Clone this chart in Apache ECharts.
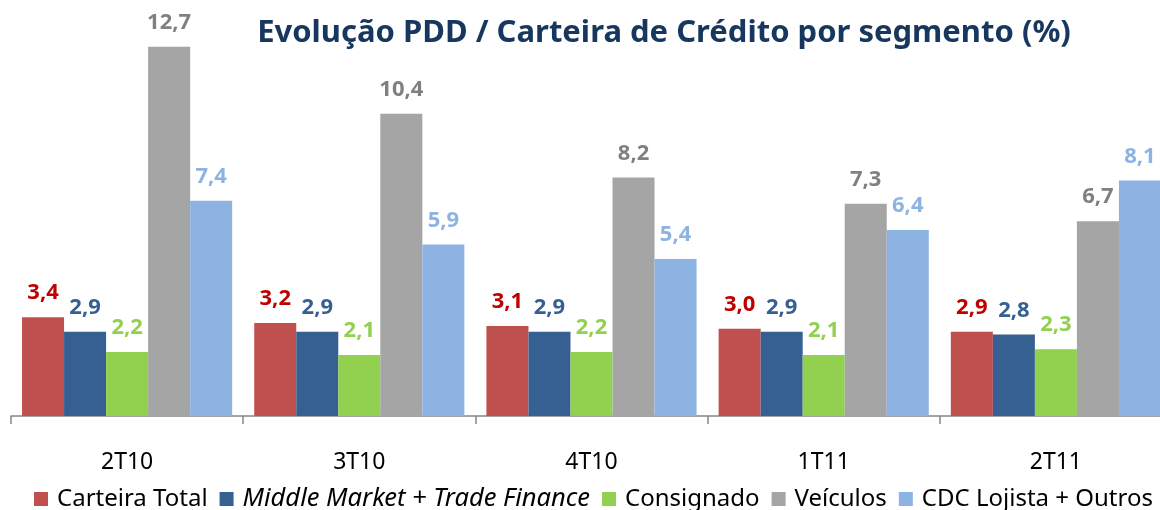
<!DOCTYPE html>
<html>
<head>
<meta charset="utf-8">
<script src="https://cdn.jsdelivr.net/npm/echarts@6/dist/echarts.min.js"></script>
<style>
html,body{margin:0;padding:0;background:#fff;}
#chart{width:1160px;height:510px;}
</style>
</head>
<body>
<div id="chart"></div>
<script>
var periodos = ['2T10', '3T10', '4T10', '1T11', '2T11'];
var carteiraTotal = [3.4, 3.2, 3.1, 3.0, 2.9];
var middleMarket = [2.9, 2.9, 2.9, 2.9, 2.8];
var consignado = [2.2, 2.1, 2.2, 2.1, 2.3];
var veiculos = [12.7, 10.4, 8.2, 7.3, 6.7];
var cdcLojista = [7.4, 5.9, 5.4, 6.4, 8.1];

var nomes = ['Carteira Total', 'Middle Market + Trade Finance', 'Consignado', 'Veículos', 'CDC Lojista + Outros'];
var coresBarra = ['#c0504d', '#366092', '#92d050', '#a5a5a5', '#8db3e2'];
var coresRotulo = ['#c00000', '#366092', '#92d050', '#808080', '#8db3e2'];
var dados = [carteiraTotal, middleMarket, consignado, veiculos, cdcLojista];

var fonte = '"Noto Sans", sans-serif';

function virgula(p){
	return p.value.toFixed(1).replace('.', ',');
}

var series = [];
for (var i = 0; i < nomes.length; i++) {
	series.push({
		name: nomes[i],
		type: 'bar',
		barGap: 0,
		barCategoryGap: '9.5%',
		itemStyle: { color: coresBarra[i] },
		label: {
			show: true,
			position: 'top',
			distance: 13,
			formatter: virgula,
			color: coresRotulo[i],
			fontFamily: fonte,
			fontWeight: 'bold',
			fontSize: 22
		},
		data: dados[i]
	});
}

var myChart = echarts.init(document.getElementById('chart'));
var option = {
	backgroundColor: '#fff',
	animation: false,
	title: {
		text: 'Evolução PDD / Carteira de Crédito por segmento (%)',
		left: 659,
		top: 13,
		textAlign: 'center',
		textStyle: {
			color: '#17375e',
			fontFamily: fonte,
			fontWeight: 'bold',
			fontSize: 31
		}
	},
	legend: {
		top: 486,
		left: 34,
		width: 1200,
		padding: 0,
		itemWidth: 14,
		itemHeight: 14,
		itemGap: 12,
		icon: 'rect',
		data: nomes,
		formatter: function(n){
			if (n == 'Middle Market + Trade Finance') return '{i|' + n + '}';
			return n;
		},
		textStyle: {
			color: '#000',
			fontFamily: fonte,
			fontSize: 24,
			padding: [0, 0, 0, 4],
			rich: {
				i: { fontStyle: 'italic', fontFamily: fonte, fontSize: 25.5, color: '#000' }
			}
		}
	},
	grid: {
		left: 11,
		right: -12,
		top: 9,
		bottom: 94,
		outerBoundsMode: 'none',
		containLabel: false
	},
	xAxis: {
		type: 'category',
		data: periodos,
		axisLine: { lineStyle: { color: '#868686', width: 1.5 } },
		axisTick: { show: true, length: 8, lineStyle: { color: '#868686', width: 1.5 } },
		axisLabel: {
			margin: 35,
			color: '#000',
			fontFamily: fonte,
			fontSize: 23
		}
	},
	yAxis: {
		type: 'value',
		min: 0,
		max: 14,
		show: false,
		splitLine: { show: false }
	},
	series: series
};
myChart.setOption(option);
</script>
</body>
</html>
